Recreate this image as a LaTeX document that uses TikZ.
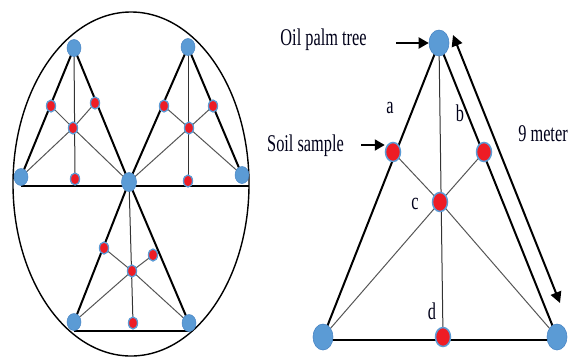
\documentclass[tikz,border=0pt]{standalone}
\usepackage{fontspec}
\setmainfont{Liberation Serif}
\usepackage{graphicx}
\usetikzlibrary{shapes.geometric,backgrounds,arrows.meta}
\definecolor{nodeblue}{HTML}{5B9BD5}
\definecolor{blueedge}{HTML}{4A86C5}
\definecolor{dotred}{HTML}{EE1C25}
\definecolor{thingray}{HTML}{555555}
\tikzset{
 bigtree/.style={ellipse, inner sep=0, minimum width=20pt, minimum height=26pt, fill=nodeblue, draw=blueedge, line width=0.6pt},
 bigsoil/.style={ellipse, inner sep=0, minimum width=15pt, minimum height=19pt, fill=dotred, draw=nodeblue, line width=1.5pt},
 smalltree/.style={ellipse, inner sep=0, minimum width=14pt, minimum height=17pt, fill=nodeblue, draw=blueedge, line width=0.5pt},
 smallsoil/.style={ellipse, inner sep=0, minimum width=9pt, minimum height=12pt, fill=dotred, draw=nodeblue, line width=1.3pt},
 side/.style={line width=2pt, black},
 inner/.style={line width=1pt, thingray},
 plumb/.style={line width=1pt, black!80},
 lbl/.style={inner sep=0, font=\fontsize{24}{27}\selectfont, text=black!90!blue},
 pointer/.style={line width=2pt, -{Triangle[length=10pt,width=11pt]}},
 dimarrow/.style={line width=2pt, {Triangle[length=11pt,width=11pt]}-{Triangle[length=11pt,width=11pt]}},
}
\newcommand{\squeeze}[1]{\scalebox{0.68}[1]{#1}}
\begin{document}
\begin{tikzpicture}[x=1pt,y=-1pt]
\useasboundingbox (0,0) rectangle (569,357);
% ---------- left diagram ----------
\draw[line width=1.4pt] (131,184) ellipse [x radius=118pt, y radius=172pt];
\node[smalltree] (TLa) at (74,48) {};
\node[smalltree] (TLb) at (21,177) {};
\node[smalltree, minimum width=15pt, minimum height=19pt] (M) at (129,182) {};
\node[smalltree] (TRa) at (188,47) {};
\node[smalltree] (TRb) at (242,175) {};
\node[smalltree] (BLb) at (74,322) {};
\node[smalltree] (BRb) at (189,323) {};
\node[smallsoil] (TL1) at (51,106) {};
\node[smallsoil] (TL2) at (95,103) {};
\node[smallsoil] (TLc) at (73,128) {};
\node[smallsoil] (TLd) at (75,179) {};
\node[smallsoil] (TR1) at (164,106) {};
\node[smallsoil] (TR2) at (213,106) {};
\node[smallsoil] (TRc) at (189,128) {};
\node[smallsoil] (TRd) at (188,181) {};
\node[smallsoil] (B1) at (104,248) {};
\node[smallsoil] (B2) at (153,255) {};
\node[smallsoil] (Bc) at (132,271) {};
\node[smallsoil] (Bd) at (133,323) {};
% ---------- right diagram ----------
\node[bigtree] (T) at (439,43) {};
\node[bigtree] (BL) at (323,337) {};
\node[bigtree] (BR) at (557,337) {};
\node[bigsoil] (A) at (393,152) {};
\node[bigsoil] (B) at (484,152) {};
\node[bigsoil] (C) at (440,202) {};
\node[bigsoil] (D) at (443,337) {};
\begin{pgfonlayer}{background}
 % top-left triangle
 \draw[side] (TLa.center) -- (TLb.center);
 \draw[side] (TLa.center) -- (M.center);
 \draw[plumb] (TLa.center) -- (TLd.center);
 \draw[inner] (TLb.center) -- (TLc.center) -- (TL2.center);
 \draw[inner] (TL1.center) -- (TLc.center) -- (M.center);
 % top-right triangle
 \draw[side] (TRa.center) -- (M.center);
 \draw[side] (TRa.center) -- (TRb.center);
 \draw[plumb] (TRa.center) -- (TRd.center);
 \draw[inner] (TR1.center) -- (TRc.center) -- (TRb.center);
 \draw[inner] (TR2.center) -- (TRc.center) -- (M.center);
 % bottom triangle
 \draw[side] (M.center) -- (BLb.center);
 \draw[side] (M.center) -- (BRb.center);
 \draw[plumb] (M.center) -- (Bd.center);
 \draw[inner] (B1.center) -- (Bc.center) -- (BRb.center);
 \draw[inner] (B2.center) -- (Bc.center) -- (BLb.center);
 % base lines
 \draw[side] (TLb.south) -- (TLb.south -| TRb.east);
 \draw[side] (BLb.south) -- (BLb.south -| BRb.center);
 % right diagram
 \draw[side] (T.center) -- (BL.center);
 \draw[side] (T.center) -- (BR.center);
 \draw[plumb] (T.center) -- (D.center);
 \draw[inner] (A.center) -- (C.center) -- (BR.center);
 \draw[inner] (B.center) -- (C.center) -- (BL.center);
 \draw[side] ([yshift=-3pt]BL.center) -- ([yshift=-3pt]BR.center);
\end{pgfonlayer}
% labels
\node[lbl] (oil) at (323.5,40) {\squeeze{Oil palm tree}};
\node[lbl] (soil) at (305.5,146) {\squeeze{Soil sample}};
\node[lbl] (nine) at (543,134) {\squeeze{9 meter}};
\node[lbl] (la) at (390,108) {\squeeze{a}};
\node[lbl] (lb) at (460,113) {\squeeze{b}};
\node[lbl] (lc) at (415,204) {\squeeze{c}};
\node[lbl] (ld) at (432,311) {\squeeze{d}};
% pointers
\coordinate (oilfrom) at (396,43);
\draw[pointer] (oilfrom) -- (oilfrom -| T.west);
\coordinate (soilfrom) at (361,145);
\draw[pointer] (soilfrom) -- (soilfrom -| A.west);
\coordinate (m1) at (453,35);
\coordinate (m2) at (560,303);
\draw[dimarrow] (m1) -- (m2);
\end{tikzpicture}
\end{document}
